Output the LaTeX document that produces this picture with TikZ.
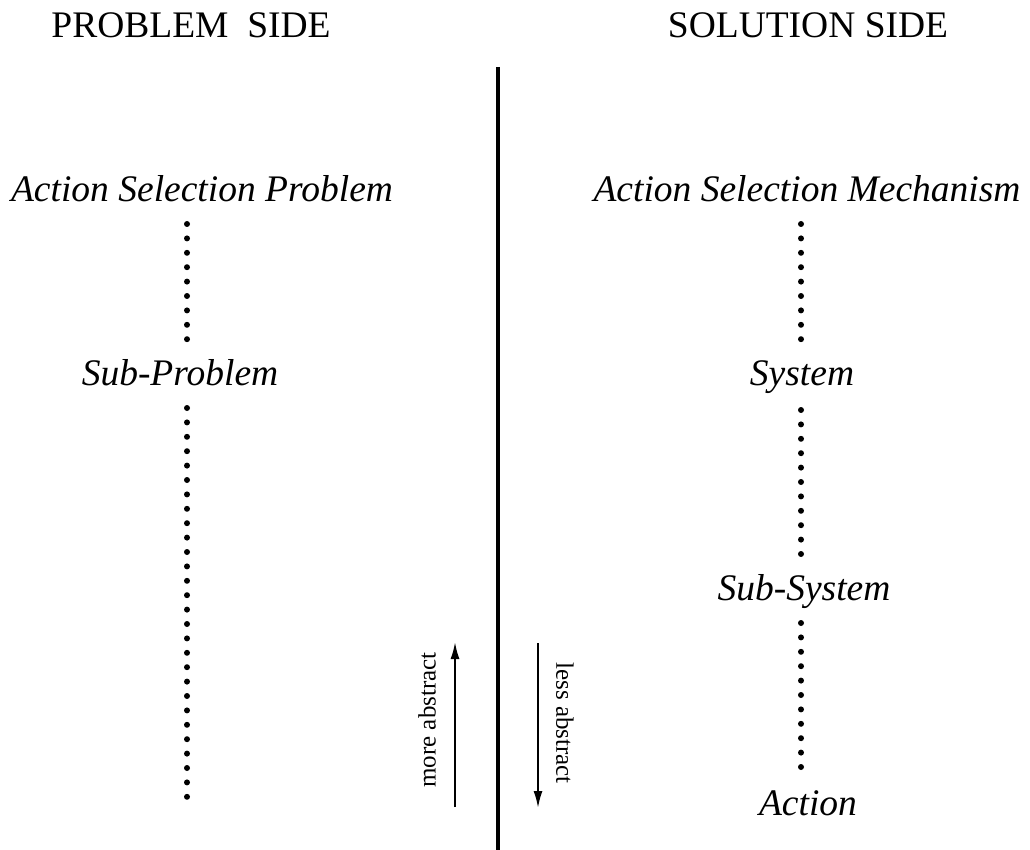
\documentclass[tikz,border=0pt]{standalone}
\usepackage{fontspec}
\setmainfont{Liberation Serif}
\usetikzlibrary{arrows.meta,calc}
\begin{document}
\begin{tikzpicture}[x=1pt,y=-1pt,
  head/.style={font=\fontsize{37.5}{42}\selectfont, inner sep=0pt, anchor=base},
  term/.style={font=\fontsize{37.5}{42}\selectfont\itshape, inner sep=0pt, anchor=base},
  side/.style={font=\fontsize{25}{28}\selectfont, inner sep=0pt},
  dotline/.style={line width=6pt, line cap=round, dash pattern=on 0pt off 14.4pt},
  divider/.style={line width=4pt},
  dirarrow/.style={line width=2pt, -{Latex[length=17pt,width=9pt]}}]
\useasboundingbox (0,0) rectangle (1030,850);

% column headings
\node[head] (ph) at (191,38) {PROBLEM\ \ SIDE};
\node[head] (sh) at (808,38) {SOLUTION SIDE};

% central divider
\coordinate (dtop) at (498,67);
\coordinate (dbot) at (498,850);
\draw[divider] (dtop) -- (dbot);

% problem side
\coordinate (colL) at (187,0);
\node[term] (asp) at (202,202) {Action Selection Problem};
\node[term] (sp)  at (180,385) {Sub-Problem};
\coordinate (lend) at (187,797.1);
\draw[dotline] ($(asp.base -| colL)+(0,22)$) -- ($(sp.base -| colL)+(0,-45.5)$);
\draw[dotline] ($(sp.base -| colL)+(0,23)$) -- (lend);

% solution side
\coordinate (colR) at (801,0);
\node[term] (asm) at (807,202) {Action Selection Mechanism};
\node[term] (sys) at (802,385) {System};
\node[term] (ssy) at (804,600) {Sub-System};
\node[term] (act) at (808,815) {Action};
\draw[dotline] ($(asm.base -| colR)+(0,22)$) -- ($(sys.base -| colR)+(0,-45.5)$);
\draw[dotline] ($(sys.base -| colR)+(0,25)$) -- ($(ssy.base -| colR)+(0,-45.7)$);
\draw[dotline] ($(ssy.base -| colR)+(0,23)$) -- ($(act.base -| colR)+(0,-47.7)$);

% direction of abstraction
\coordinate (ua) at (455,807);
\coordinate (ub) at (455,642);
\coordinate (da) at (538,643);
\coordinate (db) at (538,808);
\draw[dirarrow] (ua) -- (ub);
\draw[dirarrow] (da) -- (db);
\node[side, rotate=90]  (more) at (427,720) {more abstract};
\node[side, rotate=-90] (less) at (565,723) {less abstract};
\end{tikzpicture}
\end{document}
